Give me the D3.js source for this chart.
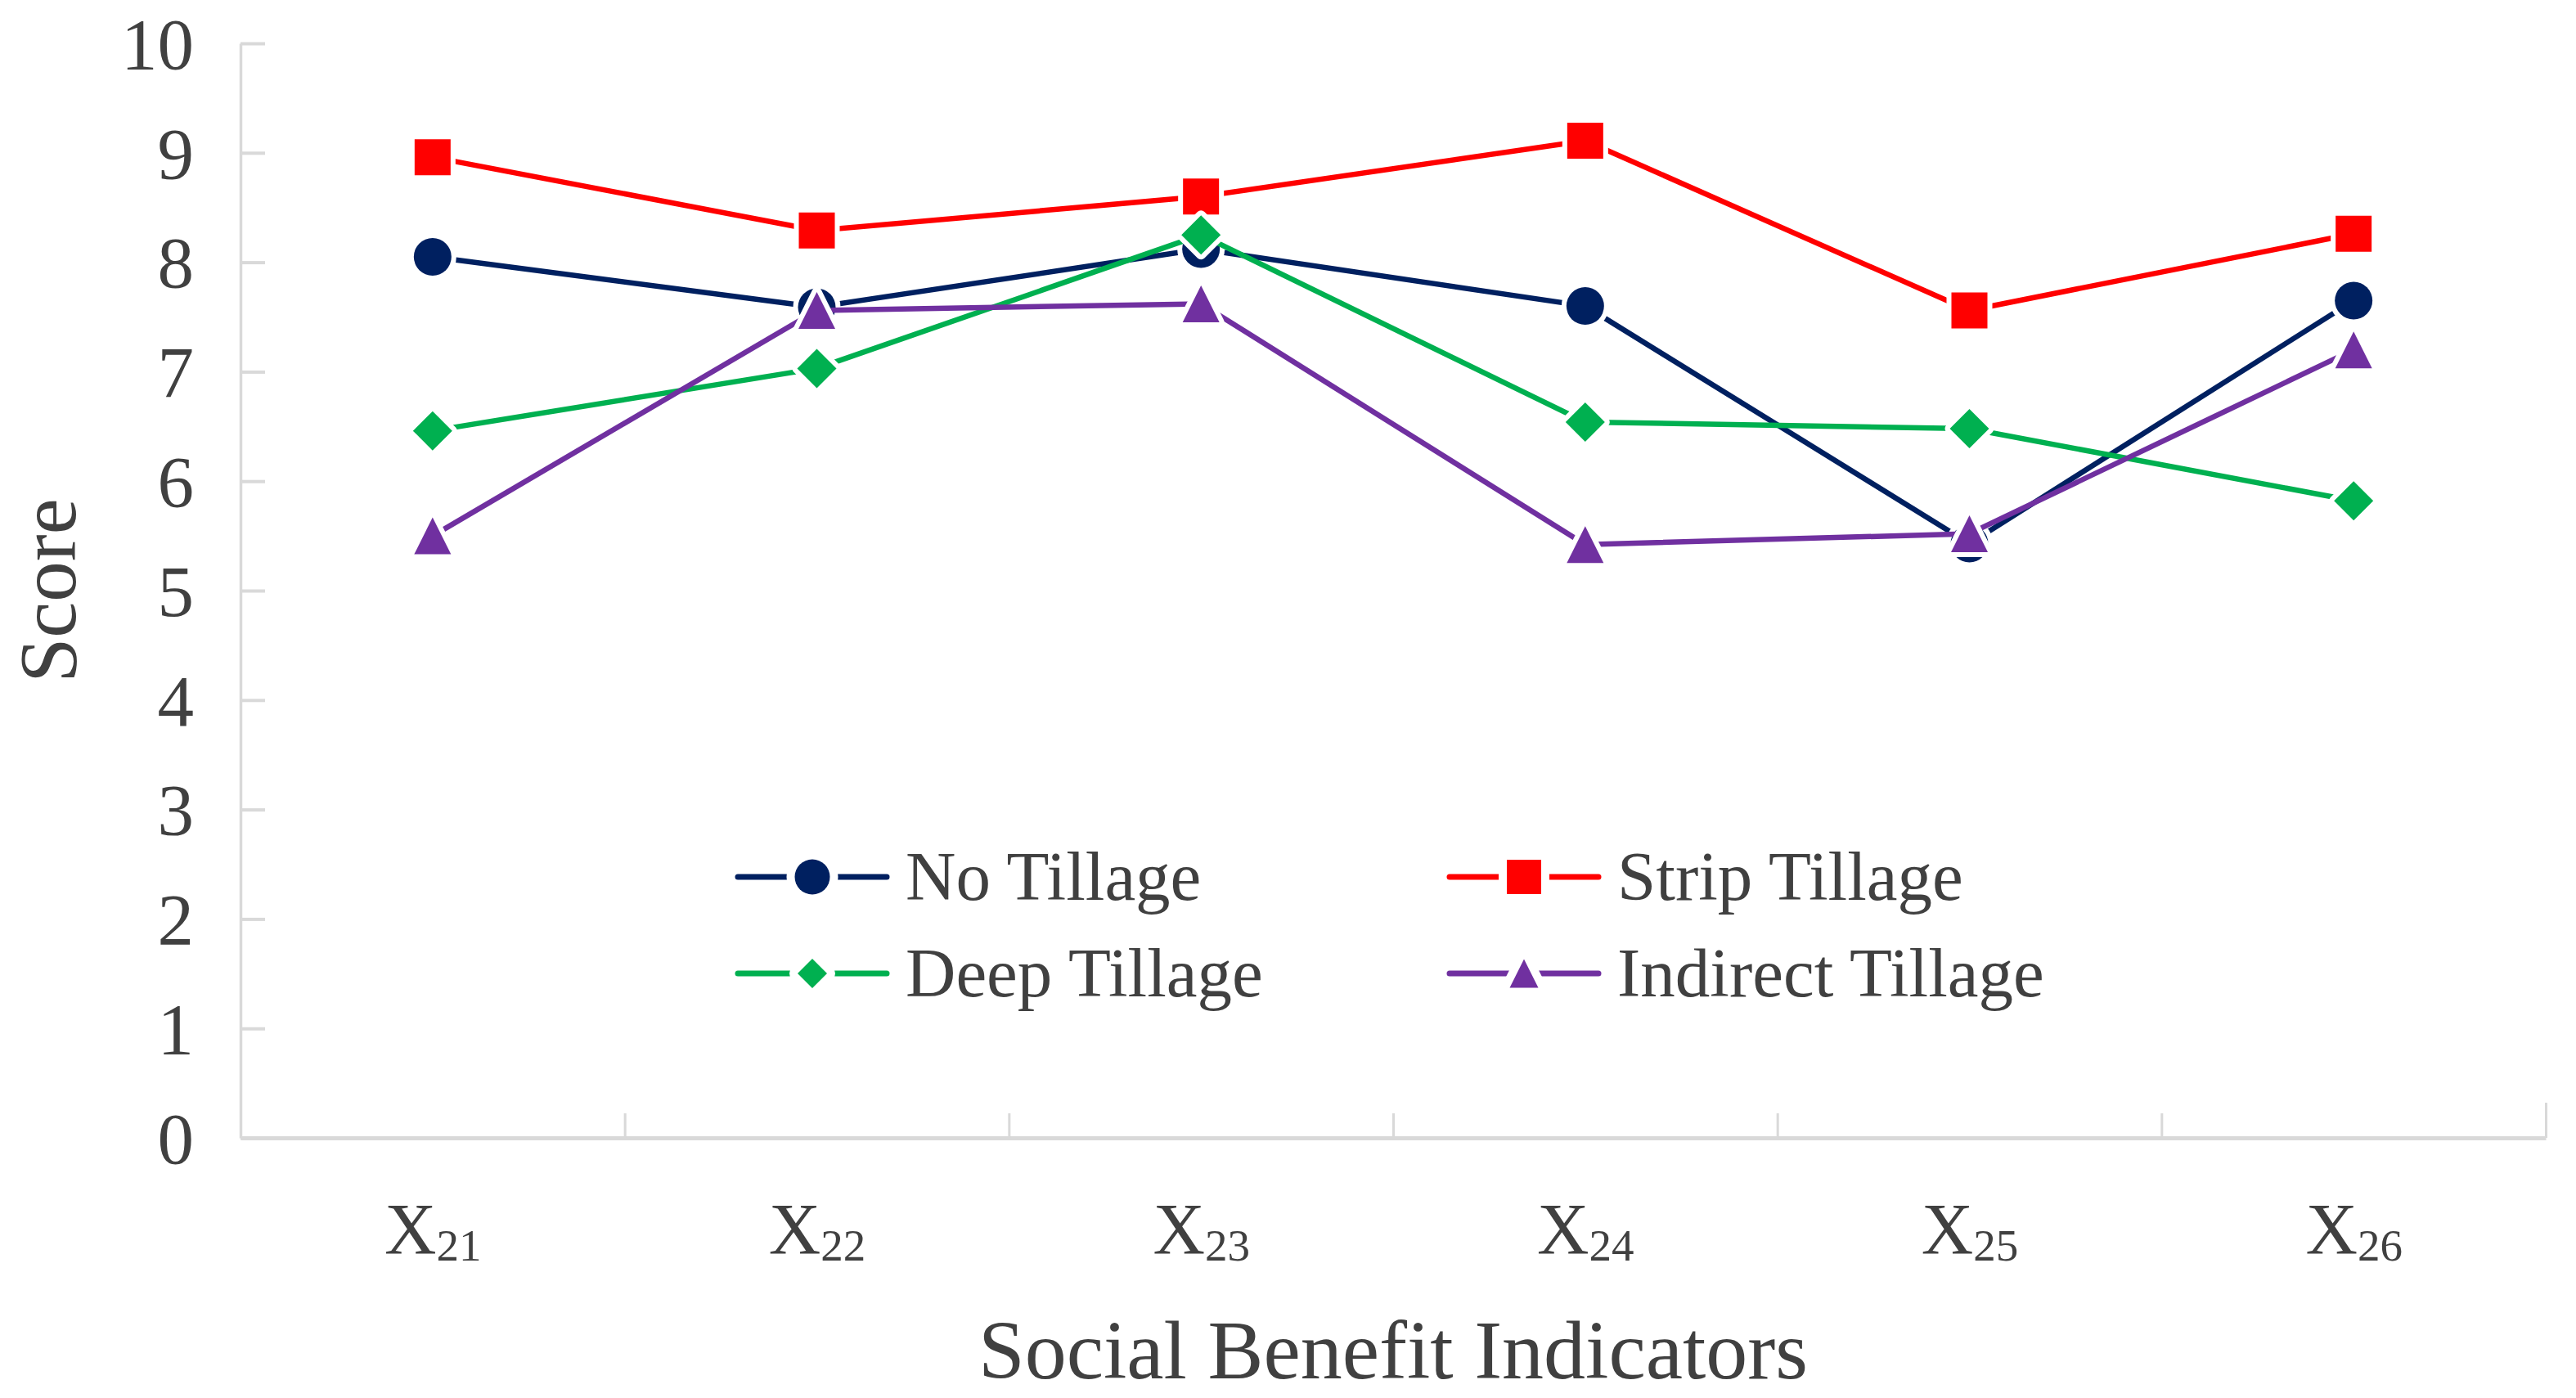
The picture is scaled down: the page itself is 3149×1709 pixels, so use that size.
<!DOCTYPE html>
<html>
<head>
<meta charset="utf-8">
<script src="https://cdn.jsdelivr.net/npm/d3@7"></script>
<style>
  body { margin: 0; background: #fff; }
  text { font-family: "Liberation Serif", "Times New Roman", serif; fill: #404040; }
</style>
</head>
<body>
<div id="chart"></div>
<script>
// Chart data
var categories = ["X21", "X22", "X23", "X24", "X25", "X26"];
var seriesNames = ["No Tillage", "Strip Tillage", "Deep Tillage", "Indirect Tillage"];
var noTillage = [8.05, 7.59, 8.12, 7.60, 5.43, 7.65];
var stripTillage = [8.96, 8.29, 8.60, 9.11, 7.56, 8.26];
var deepTillage = [6.46, 7.03, 8.25, 6.54, 6.48, 5.82];
var indirectTillage = [5.50, 7.56, 7.62, 5.42, 5.52, 7.20];
var yTicks = [0, 1, 2, 3, 4, 5, 6, 7, 8, 9, 10];

// svg area
var svgWidth = 3149;
var svgHeight = 1709;
var plot = { left: 294, right: 3112, top: 53, bottom: 1391 };

var svg = d3.select("#chart")
    .append("svg")
    .attr("width", svgWidth)
    .attr("height", svgHeight);

// scales
var xScale = d3.scalePoint()
    .domain(categories)
    .range([plot.left, plot.right])
    .padding(0.5);
var xBand = d3.scaleLinear()
    .domain([0, categories.length])
    .range([plot.left, plot.right]);
var yScale = d3.scaleLinear()
    .domain([0, 10])
    .range([plot.bottom, plot.top]);

var axisColor = "#d9d9d9";

// y axis, ticks point inwards
var yAxis = d3.axisLeft(yScale)
    .tickValues(yTicks)
    .tickSizeInner(-30)
    .tickSizeOuter(0)
    .tickPadding(57);
var yG = svg.append("g")
    .attr("transform", `translate(${plot.left},0)`)
    .call(yAxis);
yG.select(".domain").attr("stroke", axisColor).attr("stroke-width", 3.5);
yG.selectAll(".tick line").attr("stroke", axisColor).attr("stroke-width", 4);
yG.selectAll(".tick text")
    .attr("font-size", 89)
    .attr("font-family", "Liberation Serif, serif")
    .attr("fill", "#404040")
    .attr("dy", "0.34em");

// x axis line + category boundary ticks
var xAxisTicks = d3.axisBottom(xBand)
    .tickValues(d3.range(0, categories.length + 1))
    .tickSizeInner(-30)
    .tickSizeOuter(0)
    .tickFormat("");
var xG = svg.append("g")
    .attr("transform", `translate(0,${plot.bottom})`)
    .call(xAxisTicks);
xG.select(".domain").attr("stroke", axisColor).attr("stroke-width", 5);
xG.selectAll(".tick line")
    .attr("stroke", axisColor)
    .attr("stroke-width", 3)
    .attr("y2", (d, i) => (i === 0 || i === categories.length) ? -43 : -30);

// category labels with subscripts
var xLabelAxis = d3.axisBottom(xScale).tickSize(0).tickPadding(0);
var xlG = svg.append("g")
    .attr("transform", `translate(0,${plot.bottom})`)
    .call(xLabelAxis);
xlG.select(".domain").remove();
xlG.selectAll(".tick text").each(function(d) {
    var t = d3.select(this).text("")
        .attr("y", 141)
        .attr("dy", null)
        .attr("font-size", 88)
        .attr("font-family", "Liberation Serif, serif")
        .attr("fill", "#404040");
    t.append("tspan").text(d.charAt(0));
    t.append("tspan").attr("font-size", 55).attr("dy", 9).text(d.slice(1));
});

// axis titles
svg.append("text")
    .attr("x", (plot.left + plot.right) / 2)
    .attr("y", 1685)
    .attr("text-anchor", "middle")
    .attr("font-size", 102)
    .text("Social Benefit Indicators");

svg.append("text")
    .attr("transform", `translate(92,${(plot.top + plot.bottom) / 2}) rotate(-90)`)
    .attr("text-anchor", "middle")
    .attr("font-size", 99)
    .text("Score");

// marker shapes (size = full width/height)
function markerPath(type, s) {
    var h = s / 2;
    if (type === "circle") {
        return d3.symbol(d3.symbolCircle, Math.PI * h * h)();
    }
    if (type === "square") {
        return `M${-h},${-h}H${h}V${h}H${-h}Z`;
    }
    if (type === "diamond") {
        return `M0,${-h}L${h},0L0,${h}L${-h},0Z`;
    }
    return `M0,${-h}L${h},${h}L${-h},${h}Z`;
}

var series = [
    { name: seriesNames[0], values: noTillage, color: "#002060", marker: "circle", size: 46, legSize: 43 },
    { name: seriesNames[1], values: stripTillage, color: "#ff0000", marker: "square", size: 44, legSize: 42 },
    { name: seriesNames[2], values: deepTillage, color: "#00b050", marker: "diamond", size: 48, legSize: 36 },
    { name: seriesNames[3], values: indirectTillage, color: "#7030a0", marker: "triangle", size: 45, legSize: 35 }
];

var line = d3.line()
    .x((d, i) => xScale(categories[i]))
    .y(d => yScale(d));

// lines + markers, series in order
series.forEach(function(s) {
    var g = svg.append("g");
    g.append("path")
        .datum(s.values)
        .attr("d", line)
        .attr("fill", "none")
        .attr("stroke", s.color)
        .attr("stroke-width", 6.5)
        .attr("stroke-linejoin", "round");
    g.selectAll(".marker")
        .data(s.values)
        .enter()
        .append("path")
        .attr("class", "marker")
        .attr("d", markerPath(s.marker, s.size))
        .attr("transform", (d, i) => `translate(${xScale(categories[i])},${yScale(d)})`)
        .attr("fill", s.color)
        .attr("stroke", "#fff")
        .attr("stroke-width", 12)
        .attr("stroke-linejoin", "round")
        .style("paint-order", "stroke");
});

// legend, 2 x 2
var legendCols = [902, 1772];
var legendRows = [1072, 1190];
series.forEach(function(s, i) {
    var lx = legendCols[i % 2];
    var ly = legendRows[Math.floor(i / 2)];
    var g = svg.append("g").attr("transform", `translate(${lx},${ly})`);
    g.append("line")
        .attr("x1", 0).attr("x2", 182)
        .attr("y1", 0).attr("y2", 0)
        .attr("stroke", s.color)
        .attr("stroke-width", 7)
        .attr("stroke-linecap", "round");
    g.append("path")
        .attr("d", markerPath(s.marker, s.legSize))
        .attr("transform", "translate(91,0)")
        .attr("fill", s.color)
        .attr("stroke", "#fff")
        .attr("stroke-width", 20)
        .attr("stroke-linejoin", "round")
        .style("paint-order", "stroke");
    g.append("text")
        .attr("x", 205)
        .attr("y", 28)
        .attr("font-size", 85)
        .text(s.name);
});
</script>
</body>
</html>
